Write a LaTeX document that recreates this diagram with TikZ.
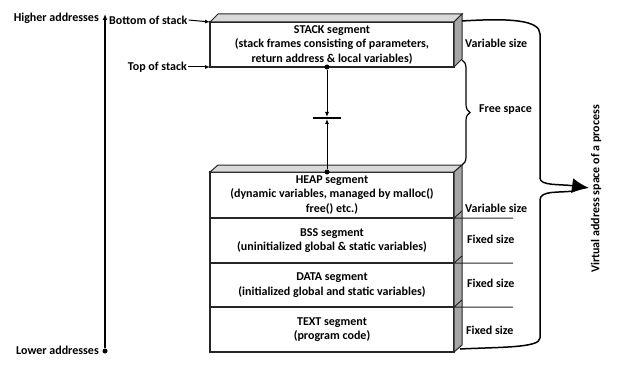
\documentclass[tikz,border=0pt]{standalone}
\usepackage{fontspec}
\setmainfont{Carlito}
\usepackage{tikz}
\usetikzlibrary{arrows.meta,positioning,calc,decorations.pathreplacing}
\definecolor{edgegray}{RGB}{38,38,38}
\definecolor{topgray}{RGB}{217,217,217}
\definecolor{sidegray}{RGB}{166,166,166}
\tikzset{
  seg/.style={rectangle,draw=edgegray,line width=1.5pt,fill=white,minimum width=244pt,
              inner sep=0pt,outer sep=0pt,align=center,font=\segfont},
  topface/.style={draw=edgegray,line width=1pt,fill=topgray},
  sideface/.style={draw=edgegray,line width=1pt,fill=sidegray},
  lbl/.style={font=\segfont,inner sep=1pt},
  fl/.style={-{Latex[length=5pt,width=4pt]},line width=1pt,draw=black},
  pt/.style={circle,fill=black,inner sep=0pt,minimum size=5pt},
}
\newcommand{\segfont}{\fontsize{12}{14.5}\selectfont\bfseries}

\begin{document}
\begin{tikzpicture}[x=1pt,y=-1pt]
  \useasboundingbox (0,0) rectangle (620,366);
  % front faces of the segments
  \node[seg,minimum height=45pt] (stack) at (332,44.5)
    {STACK segment\\(stack frames consisting of parameters,\\return address \& local variables)};
  \node[seg,minimum height=46pt] (heap) at (332,195)
    {HEAP segment\\(dynamic variables, managed by malloc()\\free() etc.)};
  \node[seg,minimum height=45pt] (bss) at (332,240.5)
    {BSS segment\\(uninitialized global \& static variables)};
  \node[seg,minimum height=44pt] (data) at (332,285)
    {DATA segment\\(initialized global and static variables)};
  \node[seg,minimum height=45pt] (text) at (332,329.5)
    {TEXT segment\\(program code)};
  % 3d top and side faces
  \draw[topface] (stack.north west) -- ++(8,-8) -- ++(244,0) -- (stack.north east) -- cycle;
  \draw[sideface] (stack.north east) -- ++(8,-8) -- ++(0,45) -- (stack.south east) -- cycle;
  \draw[topface] (heap.north west) -- ++(8,-7) -- ++(244,0) -- (heap.north east) -- cycle;
  \draw[sideface] (heap.north east) -- ++(8,-7) -- ($(text.south east)+(8,-7)$) -- (text.south east) -- cycle;
  \foreach \s in {heap,bss,data}
    \draw[draw=edgegray,line width=1pt] (\s.south east) -- ++(8,-7)
      (\s.south east) -- ++(59,0);
  % size notes
  \node[lbl,anchor=west] (vs1) at (464,43) {Variable size};
  \node[lbl,anchor=west] (vs2) at (464,208) {Variable size};
  \node[lbl,anchor=west] (fs1) at (466,239) {Fixed size};
  \node[lbl,anchor=west] (fs2) at (466,283) {Fixed size};
  \node[lbl,anchor=west] (fs3) at (465,330) {Fixed size};
  % address axis
  \coordinate (hiend) at (105,14);
  \node[pt] (loend) at (105,351) {};
  \draw[-{Latex[length=6pt,width=5pt]},line width=1.5pt] (loend) -- (hiend);
  \node[lbl,anchor=east] (hi) at (100,18) {Higher addresses};
  \node[lbl,anchor=east] (lo) at (100,350) {Lower addresses};
  \node[lbl,anchor=west] (bos) at (108,20) {Bottom of stack};
  \node[lbl,anchor=east] (tos) at (188,67) {Top of stack};
  \draw[fl] (bos.east) -- (stack.north west);
  \draw[fl] (tos.east) -- (stack.south west);
  % stack and heap grow towards each other
  \node[pt] (sgrow) at (327,67) {};
  \node[pt] (hgrow) at (327,172) {};
  \coordinate (meet) at (327,118);
  \draw[line width=1.3pt] ($(meet)+(-14,0)$) -- ($(meet)+(14,0)$);
  \draw[fl] (sgrow) -- ($(meet)+(0,-1)$);
  \draw[fl] (hgrow) -- ($(meet)+(0,1)$);
  % free space brace
  \coordinate (fstop) at (462,60);
  \coordinate (fsbot) at (462,165);
  \draw[line width=1.2pt,decorate,decoration={brace,amplitude=8pt}] (fstop) -- (fsbot);
  \node[lbl,anchor=west] (free) at (478,110) {Free space};
  % whole address space
  \coordinate (vtop) at (462,21);
  \coordinate (vbot) at (460,349);
  \coordinate (vtip) at (589,188);
  \draw[line width=1.5pt,-{Latex[length=17pt,width=15pt]}] (vtop) .. controls (510,18) and (540,20) .. (540,34)
    -- (540,178) .. controls (540,186) and (560,184) .. (vtip);
  \draw[line width=1.5pt] (573,191) .. controls (560,193) and (540,190) .. (540,200)
    -- (540,338) .. controls (540,348) and (500,347) .. (vbot);
  \node[lbl,rotate=90] (vas) at (596,189) {Virtual address space of a process};
\end{tikzpicture}
\end{document}
